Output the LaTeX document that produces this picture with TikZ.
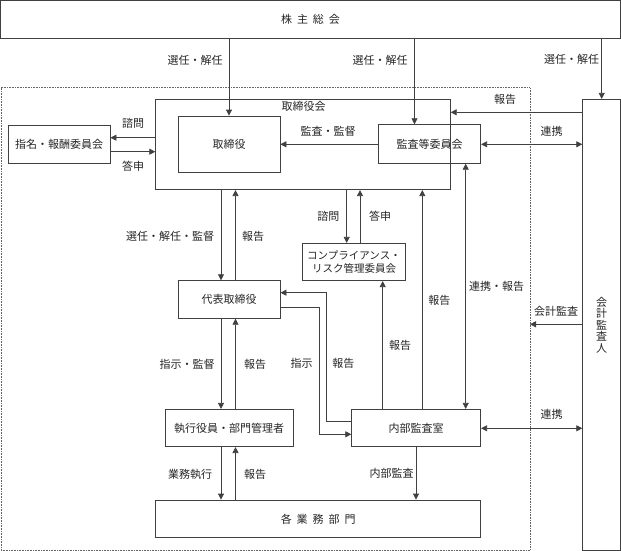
\documentclass[tikz,border=0pt]{standalone}
\usepackage{fontspec}
\setmainfont{Noto Sans CJK JP}
\usetikzlibrary{arrows.meta,calc}
\begin{document}
\begin{tikzpicture}[x=1pt,y=-1pt,
  box/.style={draw=black!75, line width=0.8pt, inner sep=0pt, font=\fontsize{11}{13}\selectfont, text=black!85},
  lab/.style={inner sep=0pt, font=\fontsize{11}{13}\selectfont, text=black!85},
  arr/.style={draw=black!75, line width=0.8pt, -{Triangle[length=6pt,width=6pt]}},
  darr/.style={draw=black!75, line width=0.8pt, {Triangle[length=6pt,width=6pt]}-{Triangle[length=6pt,width=6pt]}},
  dotbox/.style={draw=black!60, densely dotted, line width=0.6pt}
]
\useasboundingbox (0,0) rectangle (621,551);
\fill[white] (0,0) rectangle (621,551);

% dotted company frame
\draw[dotbox] (1,87.7) rectangle (530,550);
\coordinate (dotR) at (530,324.3);

% helper columns and rows
\coordinate (c221) at (221,0);
\coordinate (c235) at (235.5,0);
\coordinate (c414) at (414.5,0);
\coordinate (c601) at (601.7,0);
\coordinate (c346) at (346.7,0);
\coordinate (c360) at (360,0);
\coordinate (c465) at (465.7,0);
\coordinate (c422) at (422.3,0);
\coordinate (c382) at (382.7,0);
\coordinate (c416) at (416,0);
\coordinate (c326) at (326,0);
\coordinate (c319) at (319.3,0);
\coordinate (r112) at (0,112.3);
\coordinate (r144) at (0,144.3);
\coordinate (r137) at (0,137.7);
\coordinate (r151) at (0,151.7);
\coordinate (r292) at (0,292.7);
\coordinate (r307) at (0,307.3);
\coordinate (r421) at (0,421);
\coordinate (r434) at (0,434.3);
\coordinate (r324) at (0,324.3);
\coordinate (r428) at (0,428.3);

% boxes
\node[box, minimum width=620pt, minimum height=37.5pt] (top) at (310.5,19.25) {株\hspace{0.45em}主\hspace{0.45em}総\hspace{0.45em}会};
\node[box, minimum width=294.6pt, minimum height=90.7pt] (torikai) at (303,144.35) {};
\node[lab] (torikailab) at (303.5,106.5) {取締役会};
\node[box, minimum width=102pt, minimum height=56.7pt] (tori) at (229,144.35) {取締役};
\node[box, minimum width=102.4pt, minimum height=38.6pt] (kansa) at (429.5,144) {監査等委員会};
\node[box, minimum width=102pt, minimum height=38pt] (shimei) at (59,144) {指名・報酬委員会};
\node[box, minimum width=102.6pt, minimum height=37.4pt, align=center, font=\fontsize{10.5}{13.5}\selectfont] (comp) at (354,262) {コンプライアンス・\\リスク管理委員会};
\node[box, minimum width=101.7pt, minimum height=37.6pt] (daihyo) at (229.2,299.5) {代表取締役};
\node[box, minimum width=128.3pt, minimum height=37.4pt] (shikko) at (229.2,428) {執行役員・部門管理者};
\node[box, minimum width=129pt, minimum height=37.4pt] (naibu) at (416.2,428) {内部監査室};
\node[box, minimum width=325pt, minimum height=37.7pt] (kakugyo) at (318.2,518.85) {各\hspace{0.45em}業\hspace{0.45em}務\hspace{0.45em}部\hspace{0.45em}門};
\node[box, minimum width=37.8pt, minimum height=451pt, align=center, font=\fontsize{11}{11.5}\selectfont] (kaikei) at (601.6,324.8) {会\\計\\監\\査\\人};

% connectors
\draw[arr] (top.south -| tori.north) -- (tori.north);
\node[lab] (l1) at (195,60) {選任・解任};
\draw[arr] (top.south -| c414) -- (kansa.north -| c414);
\node[lab] (l2) at (380,60) {選任・解任};
\draw[arr] (top.south -| c601) -- (kaikei.north -| c601);
\node[lab] (l3) at (571.7,59.3) {選任・解任};

\draw[arr] (kaikei.west |- r112) -- (torikai.east |- r112);
\node[lab] (l4) at (505,99) {報告};
\draw[darr] (kansa.east |- r144) -- (kaikei.west |- r144);
\node[lab] (l5) at (551.7,131.7) {連携};
\draw[arr] (kansa.west |- r144) -- (tori.east |- r144);
\node[lab] (l6) at (328,131) {監査・監督};

\draw[arr] (torikai.west |- r137) -- (shimei.east |- r137);
\node[lab] (l7) at (133,123) {諮問};
\draw[arr] (shimei.east |- r151) -- (torikai.west |- r151);
\node[lab] (l8) at (133,166) {答申};

\draw[arr] (torikai.south -| c221) -- (daihyo.north -| c221);
\node[lab] (l9) at (170,236) {選任・解任・監督};
\draw[arr] (daihyo.north -| c235) -- (torikai.south -| c235);
\node[lab] (l10) at (253,236) {報告};

\draw[arr] (torikai.south -| c346) -- (comp.north -| c346);
\node[lab] (l11) at (328.3,216.7) {諮問};
\draw[arr] (comp.north -| c360) -- (torikai.south -| c360);
\node[lab] (l12) at (380,216.7) {答申};

\draw[darr] (kansa.south -| c465) -- (naibu.north -| c465);
\node[lab] (l13) at (496.7,286) {連携・報告};
\draw[arr] (naibu.north -| c422) -- (torikai.south -| c422);
\node[lab] (l14) at (439.3,300) {報告};
\draw[arr] (naibu.north -| c382) -- (comp.south -| c382);
\node[lab] (l15) at (400,345) {報告};

\draw[arr] (naibu.west |- r421) -- (c326 |- r421) -- (c326 |- r292) -- (daihyo.east |- r292);
\node[lab] (l16) at (343.3,363.3) {報告};
\draw[arr] (daihyo.east |- r307) -- (c319 |- r307) -- (c319 |- r434) -- (naibu.west |- r434);
\node[lab] (l17) at (301.7,363.3) {指示};

\draw[arr] (daihyo.south -| c221) -- (shikko.north -| c221);
\node[lab] (l18) at (187,364.3) {指示・監督};
\draw[arr] (shikko.north -| c235) -- (daihyo.south -| c235);
\node[lab] (l19) at (255,364) {報告};

\draw[arr] (shikko.south -| c221) -- (kakugyo.north -| c221);
\node[lab] (l20) at (190,474) {業務執行};
\draw[arr] (kakugyo.north -| c235) -- (shikko.south -| c235);
\node[lab] (l21) at (255,474) {報告};

\draw[arr] (naibu.south -| c416) -- (kakugyo.north -| c416);
\node[lab] (l22) at (391.7,473.3) {内部監査};

\draw[arr] (kaikei.west |- r324) -- (dotR);
\node[lab] (l23) at (556,311.7) {会計監査};
\draw[darr] (naibu.east |- r428) -- (kaikei.west |- r428);
\node[lab] (l24) at (551.7,414) {連携};
\end{tikzpicture}
\end{document}
